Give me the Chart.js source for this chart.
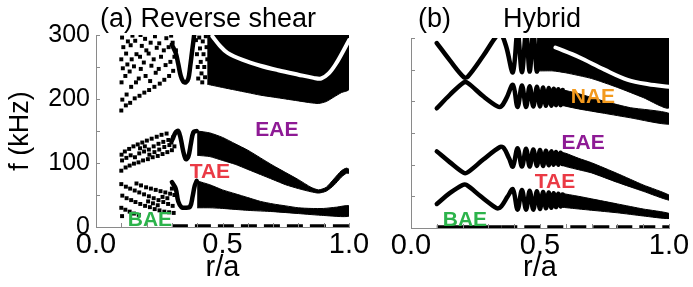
<!DOCTYPE html>
<html>
<head>
<meta charset="utf-8">
<script src="https://cdn.jsdelivr.net/npm/chart.js@4.4.1/dist/chart.umd.min.js"></script>
<style>
  html, body { margin: 0; padding: 0; background: #fff; }
  #wrap { position: relative; width: 693px; height: 287px; overflow: hidden; }
  canvas { position: absolute; top: 0; }
  #panelA { left: 0; }
  #panelB { left: 355px; }
</style>
</head>
<body>
<div id="wrap">
  <canvas id="panelA" width="380" height="287"></canvas>
  <canvas id="panelB" width="338" height="287"></canvas>
</div>
<script>
// ---- ticks ----
const xTickMarks = [0, 0.1, 0.2, 0.3, 0.4, 0.5, 0.6, 0.7, 0.8, 0.9, 1.0];
const yTickMarks = [0, 50, 100, 150, 200, 250, 300];
const xTickLabels = ['0.0', '0.5', '1.0'];
const yTickLabels = ['0', '100', '200', '300'];

// ---- (a) Reverse shear : [r/a, f kHz] ----
// scattered continuum points near the core
const aDotsUpper = [
  [0.100,182],[0.104,199],[0.101,226],[0.106,248],[0.100,262],[0.108,281],[0.103,296],
  [0.118,190],[0.121,207],[0.116,236],[0.124,254],[0.119,271],[0.126,290],
  [0.135,194],[0.139,219],[0.133,243],[0.141,262],[0.137,284],[0.144,299],
  [0.153,201],[0.158,226],[0.150,251],[0.160,270],[0.155,291],
  [0.172,205],[0.169,232],[0.177,247],[0.174,266],[0.181,283],[0.176,300],
  [0.191,210],[0.196,236],[0.189,257],[0.199,276],[0.194,294],
  [0.210,214],[0.214,228],[0.219,252],[0.208,271],[0.216,288],
  [0.231,219],[0.236,241],[0.228,262],[0.240,280],[0.233,298],
  [0.252,224],[0.248,247],[0.257,266],[0.250,287],
  [0.270,230],[0.275,253],[0.268,276],[0.278,295],
  [0.289,236],[0.294,258],[0.287,281],[0.297,299],
  [0.305,244],[0.310,266],[0.303,288],[0.316,276]
];
const aDotsMid = [
  [0.100,88],[0.103,104],[0.101,113],
  [0.117,93],[0.120,108],[0.114,118],
  [0.133,96],[0.137,112],[0.131,122],
  [0.150,99],[0.154,109],[0.148,126],
  [0.168,101],[0.171,115],[0.165,129],[0.174,123],
  [0.186,104],[0.190,118],[0.183,132],[0.193,126],
  [0.205,106],[0.209,121],[0.201,135],[0.211,113],
  [0.224,109],[0.228,126],[0.220,138],[0.231,117],
  [0.244,111],[0.247,130],[0.240,141],[0.250,121],
  [0.263,114],[0.266,133],[0.259,144],[0.270,125],
  [0.282,117],[0.286,136],[0.279,146],[0.290,128],
  [0.300,120],[0.305,140],[0.298,132],[0.310,126]
];
const aDotsLow = [
  [0.100,67],[0.104,49],[0.100,30],[0.103,17],
  [0.118,63],[0.121,45],[0.116,27],
  [0.135,60],[0.139,42],[0.133,24],
  [0.153,57],[0.156,39],[0.150,21],[0.160,68],
  [0.171,54],[0.175,36],[0.169,19],[0.178,65],
  [0.190,51],[0.194,33],[0.198,62],
  [0.209,48],[0.213,31],[0.217,60],[0.206,40],
  [0.228,45],[0.232,28],[0.236,58],[0.225,37],
  [0.247,42],[0.251,26],[0.255,56],[0.244,34],
  [0.266,39],[0.270,24],[0.274,54],[0.263,47],
  [0.285,36],[0.289,23],[0.293,52],[0.282,45],
  [0.303,33],[0.307,22],[0.310,50],[0.300,60]
];
// dotted texture at the inner edge of the upper band
const aDotsEdge = [
  [0.395,292],[0.399,270],[0.402,250],[0.404,232],[0.408,296],[0.411,279],[0.414,258],[0.417,240],[0.420,226],
  [0.422,290],[0.425,270],[0.428,250],[0.431,234],[0.434,298],[0.437,281],[0.440,262]
];
// U-shaped continuum crossings around r/a = 0.35
const aLowU  = [[0.300,70],[0.315,60],[0.325,40],[0.338,31],[0.355,30],[0.372,32],[0.382,48],[0.390,64],[0.398,72]];
const aMidU  = [[0.300,135],[0.315,148],[0.325,150],[0.335,138],[0.345,118],[0.355,106],[0.365,110],[0.375,130],[0.385,148],[0.398,150]];
const aHighU = [[0.300,285],[0.315,272],[0.325,255],[0.335,236],[0.345,227],[0.355,226],[0.365,232],[0.372,250],[0.380,275],[0.388,300]];
// dense bands (upper / lower edges)
const aLowTop = [[0.40,72],[0.45,66],[0.50,58],[0.55,52],[0.60,46],[0.65,40],[0.70,36],[0.75,33],[0.80,30],[0.85,29],[0.90,29],[0.95,31],[1.00,33]];
const aLowBot = [[0.40,30],[0.45,30],[0.50,29],[0.60,26],[0.70,24],[0.80,21],[0.90,18],[1.00,17]];
const aMidTop = [[0.40,150],[0.45,147],[0.50,140],[0.55,130],[0.60,120],[0.65,108],[0.70,96],[0.75,85],[0.80,74],[0.85,62],[0.88,58],[0.91,62],[0.94,75],[0.97,88],[0.99,92],[1.00,90]];
const aMidBot = [[0.40,112],[0.45,110],[0.50,104],[0.55,98],[0.60,90],[0.65,82],[0.70,74],[0.75,66],[0.80,60],[0.85,55],[0.88,53],[0.91,56],[0.94,65],[0.97,78],[0.99,84],[1.00,84]];
const aHighTop = [[0.44,300],[1.00,300]];
const aHighBot = [[0.44,223],[0.50,218],[0.55,214],[0.60,210],[0.65,206],[0.70,203],[0.75,200],[0.80,197],[0.85,194],[0.88,193],[0.91,196],[0.94,203],[0.97,210],[1.00,215]];
const aHighGap = [[0.46,298],[0.49,283],[0.52,272],[0.58,261],[0.65,252],[0.72,245],[0.80,238],[0.86,233],[0.89,232],[0.92,240],[0.95,256],[0.98,277],[1.00,292]];
const aFloor = [[0.30,2],[1.00,2]];

// ---- (b) Hybrid ----
const bCurve1 = [[0.10,38],[0.15,55],[0.20,68],[0.215,68],[0.27,50],[0.325,33],[0.338,31],[0.35,34],[0.375,50],[0.395,61],[0.413,29],[0.43,60],[0.446,29],[0.46,59],[0.474,29],[0.488,58],[0.50,30],[0.512,57],[0.523,31],[0.534,56],[0.544,32],[0.553,55],[0.562,33],[0.571,54],[0.58,34],[0.588,53]];
const bCurve2 = [[0.10,121],[0.15,104],[0.205,87],[0.22,88],[0.28,108],[0.345,128],[0.36,126],[0.38,110],[0.395,97],[0.413,126],[0.43,97],[0.446,125],[0.46,97],[0.474,124],[0.488,98],[0.50,123],[0.512,98],[0.523,122],[0.534,99],[0.544,121],[0.553,100],[0.562,120],[0.571,100],[0.58,119],[0.588,101]];
const bCurve3 = [[0.10,189],[0.15,210],[0.205,230],[0.22,229],[0.28,208],[0.335,192],[0.35,192],[0.37,205],[0.395,226],[0.413,191],[0.43,225],[0.446,191],[0.46,224],[0.474,192],[0.488,223],[0.50,192],[0.512,222],[0.523,193],[0.534,221],[0.544,193],[0.553,220],[0.562,194],[0.571,219],[0.58,194],[0.588,218]];
const bCurve4 = [[0.10,292],[0.15,265],[0.205,238],[0.22,239],[0.28,272],[0.335,305],[0.35,306],[0.37,285],[0.395,246],[0.413,310],[0.43,246],[0.446,310],[0.46,247],[0.474,310],[0.488,247],[0.50,310]];
const b1Top = [[0.58,55],[0.65,50],[0.70,46],[0.80,38],[0.90,30],[1.00,23]];
const b1Bot = [[0.58,33],[0.65,30],[0.70,28],[0.80,24],[0.90,19],[1.00,15]];
const b2Top = [[0.58,120],[0.60,118],[0.65,110],[0.70,103],[0.80,86],[0.90,68],[1.00,52]];
const b2Bot = [[0.58,100],[0.60,97],[0.65,92],[0.70,87],[0.80,72],[0.90,58],[1.00,44]];
const b3Top = [[0.58,219],[0.65,212],[0.75,200],[0.85,190],[1.00,181]];
const b3Bot = [[0.58,194],[0.65,188],[0.75,181],[0.85,174],[1.00,164]];
const b4Top = [[0.49,300],[1.00,300]];
const b4Bot = [[0.49,248],[0.55,248],[0.60,245],[0.70,236],[0.80,222],[0.90,206],[1.00,190]];
const b4Gap = [[0.56,285],[0.65,270],[0.75,250],[0.84,234],[0.92,227],[1.00,223]];
const bFloorSolid = [[0.10,2],[0.35,2]];
const bFloorDash = [[0.35,2],[1.00,2]];

const FONT = "'Liberation Sans', Arial, sans-serif";
const AXIS = '#8a8a8a';

function curve(data, width, extra) {
  return Object.assign({ data, borderColor: '#000', borderWidth: width, pointRadius: 0, tension: 0.35,
    fill: false, clip: 0, borderCapStyle: 'round', borderJoinStyle: 'round', order: 1 }, extra);
}
function band(upper, lower) {
  return { data: upper.concat(lower.slice().reverse()), borderColor: '#000', borderWidth: 1,
    backgroundColor: '#000', pointRadius: 0, tension: 0.2, fill: 'shape', clip: 0, order: 2 };
}
function dots(data) {
  return { data, showLine: false, pointStyle: 'rect', pointRadius: 2.8, pointBorderWidth: 0,
    pointBackgroundColor: '#000', order: 3, clip: 0 };
}

// inward minor ticks, band names and panel titles
const panelDecor = {
  id: 'panelDecor',
  afterDraw(chart, args, o) {
    const { ctx, chartArea: ca, scales: { x, y } } = chart;
    ctx.save();
    ctx.strokeStyle = AXIS;
    ctx.lineWidth = 1;
    ctx.beginPath();
    xTickMarks.forEach(v => {
      const px = Math.round(x.getPixelForValue(v)) + 0.5;
      ctx.moveTo(px, ca.bottom); ctx.lineTo(px, ca.bottom - 4);
    });
    yTickMarks.forEach(v => {
      const py = Math.round(y.getPixelForValue(v)) + 0.5;
      ctx.moveTo(ca.left, py); ctx.lineTo(ca.left + 4, py);
    });
    ctx.stroke();
    ctx.textAlign = 'center';
    ctx.textBaseline = 'middle';
    ctx.font = 'bold 21px ' + FONT;
    o.marks.forEach(m => {
      ctx.fillStyle = m.color;
      ctx.fillText(m.text, x.getPixelForValue(m.r), y.getPixelForValue(m.f));
    });
    ctx.fillStyle = '#000';
    ctx.textAlign = 'left';
    ctx.textBaseline = 'alphabetic';
    ctx.font = '27px ' + FONT;
    o.titles.forEach(t => ctx.fillText(t.text, t.x, t.y));
    ctx.restore();
  }
};

function makePanel(id, datasets, cfg) {
  return new Chart(document.getElementById(id), {
    type: 'line',
    data: { datasets },
    plugins: [panelDecor],
    options: {
      responsive: false,
      animation: false,
      events: [],
      layout: { padding: { left: 0, right: cfg.padRight, top: cfg.top, bottom: 0 } },
      plugins: {
        legend: { display: false },
        tooltip: { enabled: false },
        panelDecor: { marks: cfg.marks, titles: cfg.titles }
      },
      scales: {
        x: {
          type: 'linear', min: 0, max: 1,
          grid: { display: false, drawTicks: false },
          border: { display: true, color: AXIS, width: 1 },
          ticks: { stepSize: 0.5, maxRotation: 0, autoSkip: false, padding: 1, color: '#000',
            font: { family: FONT, size: 29 },
            callback: v => xTickLabels[Math.round(v * 2)] },
          title: { display: true, text: 'r/a', color: '#000', font: { family: FONT, size: 29 },
            padding: { top: 0, bottom: 2 } },
          afterFit: s => { s.height = 287 - cfg.bottom; }
        },
        y: {
          min: 0, max: 300,
          grid: { display: false, drawTicks: false },
          border: { display: true, color: AXIS, width: 1 },
          ticks: { display: cfg.yLabels, stepSize: 100, padding: 6, color: '#000',
            font: { family: FONT, size: 25 },
            callback: v => yTickLabels[Math.round(v / 100)] },
          title: { display: cfg.yLabels, text: 'f (kHz)', color: '#000', font: { family: FONT, size: 27 },
            padding: { top: 4, bottom: 0 } },
          afterFit: s => { s.width = cfg.left; }
        }
      }
    }
  });
}

document.addEventListener('DOMContentLoaded', function () {
  makePanel('panelA', [
    curve(aHighGap, 4, { borderColor: '#fff', order: 0 }),
    curve(aLowU, 4.5), curve(aMidU, 4.5), curve(aHighU, 4.5),
    band(aLowTop, aLowBot), band(aMidTop, aMidBot), band(aHighTop, aHighBot),
    dots(aDotsUpper), dots(aDotsMid), dots(aDotsLow), dots(aDotsEdge),
    curve(aFloor, 3, { borderDash: [16, 7], borderCapStyle: 'butt', tension: 0 })
  ], {
    left: 96, padRight: 31, top: 35, bottom: 227, yLabels: true,
    marks: [
      { text: 'EAE', color: '#8e1a95', r: 0.715, f: 151 },
      { text: 'TAE', color: '#ea3a45', r: 0.45, f: 86 },
      { text: 'BAE', color: '#2cb34b', r: 0.213, f: 11 }
    ],
    titles: [{ text: '(a) Reverse shear', x: 100, y: 27 }]
  });

  makePanel('panelB', [
    curve(b4Gap, 4, { borderColor: '#fff', order: 0 }),
    curve(bCurve1, 4.5), curve(bCurve2, 4.5), curve(bCurve3, 4.5), curve(bCurve4, 4.5),
    band(b1Top, b1Bot), band(b2Top, b2Bot), band(b3Top, b3Bot), band(b4Top, b4Bot),
    curve(bFloorSolid, 3, { borderCapStyle: 'butt', tension: 0 }),
    curve(bFloorDash, 3, { borderDash: [16, 7], borderCapStyle: 'butt', tension: 0 })
  ], {
    left: 56, padRight: 24, top: 38, bottom: 228, yLabels: false,
    marks: [
      { text: 'NAE', color: '#f39a1e', r: 0.705, f: 207 },
      { text: 'EAE', color: '#8e1a95', r: 0.667, f: 134 },
      { text: 'TAE', color: '#ea3a45', r: 0.558, f: 73 },
      { text: 'BAE', color: '#2cb34b', r: 0.209, f: 13 }
    ],
    titles: [{ text: '(b)', x: 63, y: 27 }, { text: 'Hybrid', x: 148, y: 27 }]
  });
});
</script>
</body>
</html>
